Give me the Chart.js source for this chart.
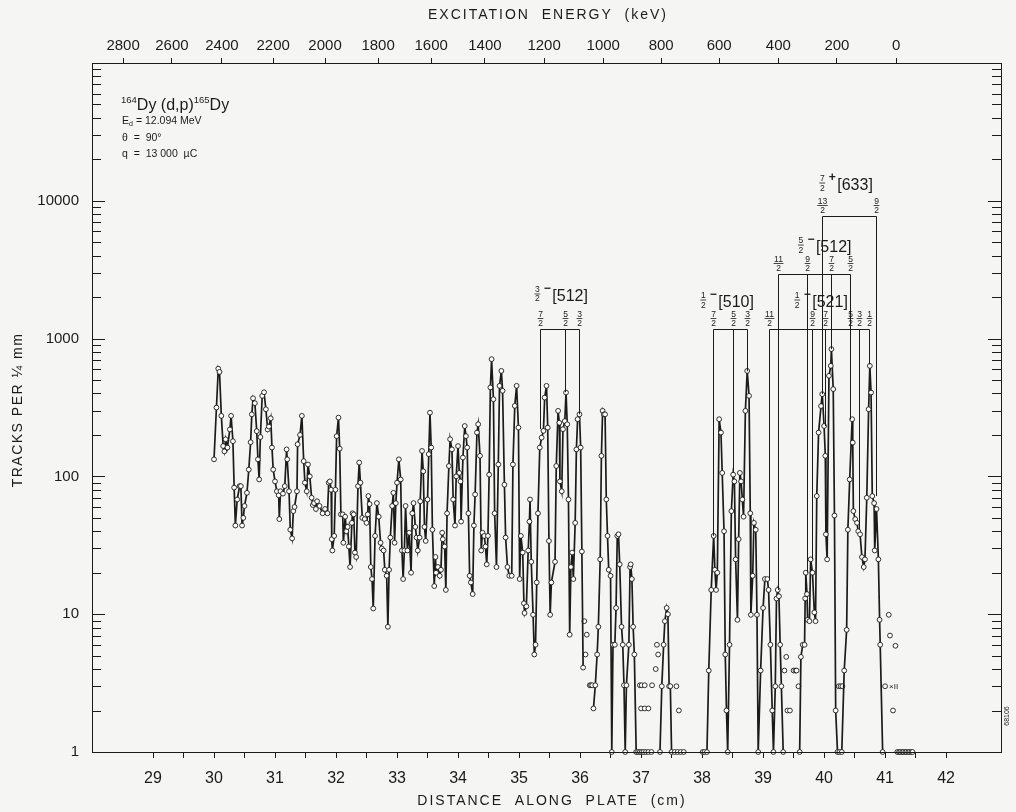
<!DOCTYPE html>
<html>
<head>
<meta charset="utf-8">
<script src="https://cdn.jsdelivr.net/npm/chart.js@4.4.1/dist/chart.umd.min.js"></script>
<style>
  html, body { margin: 0; padding: 0; background: #f5f5f3; }
  canvas { display: block; }
</style>
</head>
<body>
<canvas id="plate" width="1016" height="812"></canvas>
<script>
// 164Dy(d,p)165Dy proton spectrum: tracks per 1/4 mm versus distance along the plate (cm).
// Each segment is a run of connected readings [cm, tracks]; zero counts sit on the axis floor (1).
const scanA = [
  [30.00,133],[30.04,316],[30.07,605],[30.09,573],[30.12,275],[30.15,166],[30.17,152],[30.19,186],
  [30.22,162],[30.26,219],[30.28,275],[30.31,180],[30.33,83],[30.35,44],[30.38,68],[30.42,85],
  [30.44,85],[30.46,44],[30.48,50],[30.50,61],[30.54,76],[30.57,112],[30.60,177],[30.62,282],
  [30.64,369],[30.67,340],[30.70,213],[30.72,133],[30.74,95],[30.76,193],[30.79,384],[30.82,408],
  [30.85,307],[30.88,219],[30.90,230],[30.93,264],[30.95,162],[30.97,112],[31.00,92],[31.03,78],
  [31.06,73],[31.07,49],[31.09,78],[31.13,75],[31.16,85],[31.19,157],[31.20,133],[31.23,78],
  [31.25,41],[31.28,35.5],[31.30,56],[31.32,60],[31.36,78],[31.37,171],[31.41,200],[31.44,275],
  [31.47,129],[31.49,90],[31.52,78],[31.54,122],[31.57,100],[31.60,70],[31.62,62],
  [31.64,64],[31.67,58],[31.69,66],[31.73,61],[31.78,54],[31.82,58],[31.86,54],[31.88,90],
  [31.90,92],[31.92,80],[31.93,35],[31.94,29],[31.97,37],[31.99,80],[32.01,196],[32.04,267],
  [32.06,159],[32.08,53],[32.11,53],[32.12,33],[32.15,51],[32.17,40],[32.19,43],[32.21,31],
  [32.23,22],[32.26,46],[32.27,54],[32.29,53],[32.31,28],[32.33,26],[32.36,85],[32.38,126],
  [32.40,90],[32.43,50],[32.47,49],[32.50,46],[32.52,53],[32.53,72],[32.55,63],[32.57,22],
  [32.59,18],[32.61,11],[32.64,37],[32.67,64],[32.70,51],[32.73,33],[32.75,30],[32.78,29],
  [32.80,21],[32.83,19],[32.85,8.1],[32.87,21],[32.89,36],[32.92,61],[32.94,76],[32.96,33],
  [32.98,64],[33.00,90],[33.03,133],[33.06,95],[33.08,29],[33.10,18],[33.12,29],[33.14,61],
  [33.17,29],[33.20,39],[33.23,20],[33.25,54],[33.27,64],[33.30,43],[33.32,36],[33.34,29],
  [33.37,36],[33.38,66],[33.41,153],[33.43,109],[33.45,43],[33.47,34],[33.50,68],[33.52,145],
  [33.54,290],[33.56,162],[33.58,41],
  [33.61,16],[33.63,26],[33.64,20],[33.67,22],[33.70,19],[33.72,21],[33.74,39],[33.75,35],
  [33.78,31],[33.80,15],[33.82,54],[33.85,119],[33.87,186],[33.90,157],[33.92,68],[33.95,44],
  [33.97,100],[34.00,166],[34.02,106],[34.04,92],[34.05,47],[34.08,137],[34.11,232],[34.13,196],
  [34.15,162],[34.17,54],[34.19,19],[34.21,17],[34.24,14],[34.26,44],[34.28,74],[34.31,208],
  [34.33,239],[34.36,141],[34.38,29],[34.40,39],[34.43,37],[34.45,31],[34.47,23],[34.49,37],
  [34.51,103],[34.53,442],[34.55,709],[34.58,363],[34.60,54],[34.63,22],[34.66,122],[34.68,454],
  [34.71,583],[34.73,418],[34.76,87],[34.78,36],[34.81,22],[34.84,19],[34.88,19],[34.90,122],
  [34.93,325],[34.96,454],[34.99,226],[35.01,18],[35.03,37],[35.06,28],[35.08,12],[35.09,10.2],
  [35.12,11.4],[35.15,29],[35.17,47],[35.18,68],[35.20,24],[35.23,9.9],[35.25,5.1],[35.27,6.0],
  [35.29,17],[35.31,54],[35.34,162],[35.37,191],[35.40,214],[35.42,373],[35.45,454],[35.47,226],
  [35.49,34],[35.51,9.9],[35.53,17],
  [35.59,24],[35.61,119],[35.64,299],[35.66,245],[35.67,92],[35.70,78],[35.72,220],[35.75,252],
  [35.77,406],[35.79,239],[35.81,68],[35.83,7.1],[35.85,22],[35.87,28],[35.89,18],[35.92,46],
  [35.94,157],[35.96,260],[35.99,282],[36.01,162],[36.03,28.5],[36.05,4.1]
];
const scanB = [
  [36.22,2.07],[36.25,3.05],[36.28,5.1],[36.30,8.1],[36.33,25],[36.35,141],[36.37,299],[36.39,282],
  [36.41,282],[36.43,68],[36.45,37],[36.47,21],[36.50,19],[36.52,1],[36.54,6.0],[36.57,6.0],
  [36.59,11.1],[36.61,37],[36.63,38],[36.65,23],[36.68,8.1],[36.70,6.0],[36.72,3.05],[36.74,1],
  [36.76,3.05],[36.80,6.0],[36.82,22],[36.83,23],[36.85,18],[36.87,8.1],[36.89,5.1],[36.92,1],
  [36.95,1],[36.98,1],[37.01,1],[37.04,1],[37.08,1],[37.12,1],[37.17,1]
];
const scanC = [
  [37.31,1],[37.34,3],[37.37,6],[37.39,8.9],[37.42,11.1],[37.44,10],[37.46,3],[37.48,3],
  [37.50,1],[37.55,1],[37.60,1],[37.65,1],[37.70,1]
];
const scanD = [
  [38.04,1],[38.08,1],[38.11,3.9],[38.15,15],[38.19,37],[38.21,21],[38.23,15],[38.25,20],
  [38.28,260],[38.31,208],[38.33,106],[38.36,40],[38.38,5.1],[38.40,2],[38.42,1],[38.45,6],
  [38.48,56],[38.51,103],[38.53,92],[38.55,25],[38.58,9.1],[38.60,35],[38.62,106],[38.64,92],
  [38.66,68],[38.68,51],[38.71,299],[38.74,583],[38.77,384],[38.79,54],[38.80,9.9],[38.83,19],
  [38.85,46],[38.88,41],[38.90,9.9],[38.92,1],[38.96,3.9],[39.00,11.1],[39.03,18],[39.07,18],
  [39.09,15],[39.12,6.0],[39.15,2.0],[39.17,1],[39.20,3],[39.22,13],[39.24,15],[39.26,13.5],
  [39.28,6],[39.30,3],[39.33,1]
];
const scanE = [
  [39.60,1],[39.62,4.9],[39.65,6],[39.68,6],[39.69,13],[39.70,20],[39.72,14],[39.73,9.1],
  [39.76,8.9],[39.78,25],[39.81,20],[39.84,10.3],[39.86,8.9],[39.88,72],[39.91,208],[39.95,324],
  [39.97,395],[40.00,232],[40.02,141],[40.03,38],[40.05,25],[40.08,537],[40.11,634],[40.12,839],
  [40.15,430],[40.17,52],[40.19,2],[40.22,1],[40.25,1],[40.29,1],[40.33,3.9],[40.37,7.7],
  [40.39,41],[40.42,95],[40.46,260],[40.47,176],[40.48,56],[40.51,49],[40.54,46],[40.56,40],
  [40.59,38],[40.62,26],[40.65,22],[40.67,25],[40.70,70],[40.73,307],[40.75,634],[40.77,406],
  [40.79,72],[40.82,64],[40.83,29],[40.86,58],[40.89,25],[40.91,9.1],[40.92,6],[40.96,1]
];
// stray readings plotted without a connecting line
const strayPoints = [
  [36.07,8.9],[36.09,5.1],[36.11,7.1],[36.16,3.05],[36.18,3.05],[36.20,3.05],
  [36.98,3.05],[37.01,3.05],[37.06,3.05],[37.00,2.07],[37.06,2.07],[37.12,2.07],
  [37.18,3.05],[37.24,4.0],[37.26,6.0],[37.28,5.1],[37.58,3],[37.62,2],[38.01,1],
  [39.35,3.9],[39.38,4.9],[39.40,2],[39.44,2],[39.50,3.9],[39.53,3.9],[39.55,3.9],[39.58,3],
  [40.24,3],[40.27,3],[40.30,3],
  [41.00,3],[41.06,9.9],[41.08,7.0],[41.13,2.0],[41.17,5.9]
];
// empty strips beyond the ground state
const zeroTail = [
  [41.20,1],[41.23,1],[41.25,1],[41.28,1],[41.30,1],[41.33,1],[41.35,1],[41.38,1],[41.40,1],[41.43,1],[41.45,1]
];
const contaminantMark = { cm: 41.00, tracks: 3, text: '×II' };

// axis ticks
const plateTicks = [29,29.5,30,30.5,31,31.5,32,32.5,33,33.5,34,34.5,35,35.5,36,36.5,37,37.5,38,38.5,39,39.5,40,40.5,41,41.5,42];
const energyLabels = [2800,2600,2400,2200,2000,1800,1600,1400,1200,1000,800,600,400,200,0];
const energyCm     = [28.51,29.31,30.13,30.97,31.82,32.69,33.56,34.44,35.41,36.38,37.33,38.28,39.25,40.21,41.18];
const decadeLabels = [1,10,100,1000,10000];

// Nilsson band assignments: leg positions (cm), spins, leg foot (tracks), bar height (tracks)
const bands = [
  { k:'3/2', parity:'−', orbit:'[512]', legs:[35.35,35.76,35.99], spins:['7/2','5/2','3/2'], feet:[220,408,282], bar:1172, labelCm:35.30, labelTracks:2108 },
  { k:'1/2', parity:'−', orbit:'[510]', legs:[38.18,38.51,38.73], spins:['7/2','5/2','3/2'], feet:[37,107,580], bar:1172, labelCm:38.02, labelTracks:1905 },
  { k:'1/2', parity:'−', orbit:'[521]', legs:[39.09,39.80,40.02,40.43,40.58,40.74], spins:['11/2','9/2','7/2','5/2','3/2','1/2'], feet:[18,25,232,260,41,650], bar:1172, labelCm:39.56, labelTracks:1905 },
  { k:'5/2', parity:'−', orbit:'[512]', legs:[39.24,39.72,40.12,40.42], spins:['11/2','9/2','7/2','5/2'], feet:[15,20,839,260], bar:2945, labelCm:39.62, labelTracks:4775 },
  { k:'7/2', parity:'+', orbit:'[633]', legs:[39.96,40.85], spins:['13/2','9/2'], feet:[395,72], bar:7820, labelCm:39.97, labelTracks:13460 }
];

const INK = '#1b1b1b';
const FONT = '"Liberation Sans Narrow", "Liberation Sans", Arial, sans-serif';
const FONT_W = '"Liberation Sans", Arial, sans-serif';

const toPts = seg => seg.map(p => ({ x: p[0], y: p[1] }));
const gap = { x: NaN, y: null };
const mainLine = [].concat(toPts(scanA), [gap], toPts(scanB), [gap], toPts(scanC), [gap], toPts(scanD), [gap], toPts(scanE));

function drawFrac(ctx, cx, cy, s, size) {
  const [n, d] = s.split('/');
  ctx.font = `${size}px ${FONT_W}`;
  ctx.textAlign = 'center';
  ctx.textBaseline = 'alphabetic';
  const w = Math.max(ctx.measureText(n).width, ctx.measureText(d).width) + 1;
  ctx.fillText(n, cx, cy - 1.6);
  ctx.fillText(d, cx, cy + 1.4 + size * 0.72);
  ctx.beginPath();
  ctx.moveTo(cx - w / 2, cy); ctx.lineTo(cx + w / 2, cy);
  ctx.lineWidth = 0.8; ctx.stroke();
}

const decor = {
  id: 'decor',
  beforeDraw(chart) {
    const { ctx, width, height } = chart;
    ctx.save();
    ctx.fillStyle = '#f5f5f3';
    ctx.fillRect(0, 0, width, height);
    ctx.restore();
  },
  afterDatasetsDraw(chart) {
    const { ctx, scales: { x, y } } = chart;
    ctx.save();
    ctx.strokeStyle = INK; ctx.fillStyle = INK; ctx.lineWidth = 1;
    bands.forEach(b => {
      const barY = Math.round(y.getPixelForValue(b.bar)) + 0.5;
      const px = b.legs.map(c => Math.round(x.getPixelForValue(c)) + 0.5);
      ctx.beginPath();
      ctx.moveTo(px[0], barY); ctx.lineTo(px[px.length - 1], barY);
      px.forEach((p, i) => { ctx.moveTo(p, barY); ctx.lineTo(p, y.getPixelForValue(b.feet[i])); });
      ctx.lineWidth = 1; ctx.stroke();
      b.spins.forEach((s, i) => drawFrac(ctx, px[i], barY - 11, s, 8.5));
      // band label: K, parity, asymptotic quantum numbers
      const lx = x.getPixelForValue(b.labelCm), ly = y.getPixelForValue(b.labelTracks);
      drawFrac(ctx, lx, ly, b.k, 8.5);
      ctx.font = `bold 12px ${FONT_W}`;
      ctx.textAlign = 'center'; ctx.textBaseline = 'alphabetic';
      ctx.fillText(b.parity, lx + 10, ly - 2);
      ctx.font = `16px ${FONT}`;
      ctx.textAlign = 'left';
      ctx.fillText(b.orbit, lx + 15, ly + 7);
    });
    // contaminant tag
    const cx = x.getPixelForValue(contaminantMark.cm), cy = y.getPixelForValue(contaminantMark.tracks);
    ctx.font = `8px ${FONT_W}`; ctx.textAlign = 'left'; ctx.textBaseline = 'middle';
    ctx.fillText(contaminantMark.text, cx + 4, cy + 0.5);
    ctx.restore();
  },
  afterDraw(chart) {
    const { ctx, chartArea: a, scales: { y } } = chart;
    ctx.save();
    ctx.strokeStyle = INK; ctx.fillStyle = INK; ctx.lineWidth = 1;
    // frame
    ctx.strokeRect(Math.round(a.left) + 0.5, Math.round(a.top) + 0.5, Math.round(a.right - a.left), Math.round(a.bottom - a.top));
    // logarithmic ticks on both vertical edges
    ctx.beginPath();
    for (let dec = 1; dec <= 100000; dec *= 10) {
      for (let m = 1; m <= 9; m++) {
        const v = dec * m;
        if (v > 100000) break;
        const py = Math.round(y.getPixelForValue(v)) + 0.5;
        const major = m === 1;
        const len = major ? 13 : 9;
        ctx.moveTo(a.right, py); ctx.lineTo(a.right - len, py);
        ctx.moveTo(a.left, py); ctx.lineTo(a.left + len, py);
      }
    }
    ctx.stroke();

    // axis titles
    ctx.textAlign = 'center'; ctx.textBaseline = 'middle';
    ctx.font = `14px ${FONT_W}`;
    ctx.letterSpacing = '2px';
    ctx.fillText('EXCITATION  ENERGY  (keV)', 548, 15);
    ctx.fillText('DISTANCE  ALONG  PLATE  (cm)', 552, 801);
    ctx.save();
    ctx.translate(18, 410); ctx.rotate(-Math.PI / 2);
    ctx.letterSpacing = '1.5px';
    ctx.fillText('TRACKS PER ¼ mm', 0, 0);
    ctx.restore();
    ctx.letterSpacing = '0px';

    // reaction and exposure data
    ctx.textAlign = 'left'; ctx.textBaseline = 'alphabetic';
    let tx = 121;
    const part = (t, f, dy) => { ctx.font = f; ctx.fillText(t, tx, 110 + dy); tx += ctx.measureText(t).width; };
    part('164', `9.5px ${FONT_W}`, -7);
    part('Dy (d,p)', `16px ${FONT_W}`, 0);
    part('165', `9.5px ${FONT_W}`, -7);
    part('Dy', `16px ${FONT_W}`, 0);
    ctx.font = `10.5px ${FONT_W}`;
    ctx.fillText('E', 122, 124);
    ctx.font = `7px ${FONT_W}`;
    ctx.fillText('d', 129, 126);
    ctx.font = `10.5px ${FONT_W}`;
    ctx.fillText(' = 12.094 MeV', 133, 124);
    ctx.fillText('θ  =  90°', 122, 141);
    ctx.fillText('q  =  13 000  µC', 122, 157);

    // drawing number
    ctx.save();
    ctx.translate(1007, 716); ctx.rotate(-Math.PI / 2);
    ctx.font = `7px ${FONT_W}`; ctx.textAlign = 'center'; ctx.textBaseline = 'middle';
    ctx.fillText('68106', 0, 0);
    ctx.restore();
    ctx.restore();
  }
};

const pointStyle = {
  pointRadius: 2.4,
  pointHoverRadius: 2.4,
  pointBackgroundColor: '#ffffff',
  pointBorderColor: INK,
  pointBorderWidth: 0.9
};

new Chart(document.getElementById('plate'), {
  type: 'scatter',
  data: {
    datasets: [
      Object.assign({ data: mainLine, showLine: true, spanGaps: false, borderColor: INK, borderWidth: 1.7, tension: 0, clip: false }, pointStyle),
      Object.assign({ data: toPts(strayPoints), showLine: false, clip: false }, pointStyle),
      Object.assign({ data: toPts(zeroTail), showLine: true, borderColor: INK, borderWidth: 2.5, clip: false }, pointStyle)
    ]
  },
  options: {
    responsive: false,
    animation: false,
    events: [],
    layout: { padding: { left: 0, right: 15, top: 0, bottom: 0 } },
    plugins: { legend: { display: false }, tooltip: { enabled: false }, title: { display: false } },
    scales: {
      x: {
        type: 'linear', position: 'bottom', min: 28, max: 42.9,
        afterBuildTicks: s => { s.ticks = plateTicks.map(v => ({ value: v })); },
        afterFit: s => { s.height = 60; },
        border: { display: false },
        grid: { drawOnChartArea: false, drawTicks: true, tickLength: 6, color: INK, lineWidth: 1 },
        ticks: {
          autoSkip: false, maxRotation: 0, padding: 11, color: INK,
          font: { family: FONT, size: 16 },
          callback: v => Number.isInteger(v) ? String(v) : ''
        }
      },
      x2: {
        type: 'linear', position: 'top', min: 28, max: 42.9,
        afterBuildTicks: s => { s.ticks = energyCm.map(v => ({ value: v })); },
        afterFit: s => { s.height = 63; },
        border: { display: false },
        grid: { drawOnChartArea: false, drawTicks: true, tickLength: 5, color: INK, lineWidth: 1 },
        ticks: {
          autoSkip: false, maxRotation: 0, padding: 3, color: INK,
          font: { family: FONT, size: 15 },
          callback: (v, i) => String(energyLabels[i])
        }
      },
      y: {
        type: 'logarithmic', position: 'left', min: 1, max: 100000,
        afterFit: s => { s.width = 92; },
        border: { display: false },
        grid: { drawOnChartArea: false, drawTicks: false },
        ticks: {
          autoSkip: false, padding: 13, color: INK,
          font: { family: FONT, size: 15 },
          callback: v => decadeLabels.includes(v) ? String(v) : ''
        }
      }
    }
  },
  plugins: [decor]
});
</script>
</body>
</html>
